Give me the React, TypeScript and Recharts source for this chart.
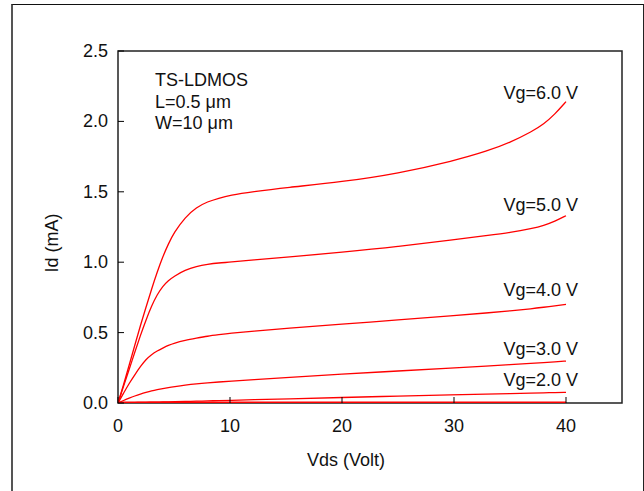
import { LineChart, Line, XAxis, YAxis, ReferenceArea } from "recharts";

// drain voltage grid (V)
const VDS = [0, 0.5, 1, 1.5, 2, 2.5, 3, 3.5, 4, 4.5, 5, 6, 7, 8, 9, 10, 12, 15, 20, 25, 30, 33, 35, 37, 38, 39, 40];

// drain current (mA)
const ID_VG6 = [0, 0.13, 0.27, 0.41, 0.55, 0.68, 0.81, 0.93, 1.04, 1.13, 1.21, 1.32, 1.39, 1.43, 1.455, 1.475, 1.5, 1.53, 1.57, 1.63, 1.72, 1.79, 1.85, 1.93, 1.98, 2.05, 2.14];
const ID_VG5 = [0, 0.12, 0.24, 0.36, 0.48, 0.59, 0.69, 0.77, 0.83, 0.87, 0.9, 0.945, 0.97, 0.985, 0.995, 1.0, 1.015, 1.035, 1.07, 1.11, 1.16, 1.19, 1.21, 1.24, 1.26, 1.29, 1.33];
const ID_VG4 = [0, 0.07, 0.14, 0.2, 0.26, 0.31, 0.345, 0.37, 0.39, 0.41, 0.425, 0.445, 0.46, 0.475, 0.485, 0.495, 0.51, 0.53, 0.56, 0.59, 0.62, 0.64, 0.655, 0.67, 0.68, 0.69, 0.7];
const ID_VG3 = [0, 0.018, 0.035, 0.05, 0.063, 0.075, 0.086, 0.095, 0.103, 0.11, 0.116, 0.127, 0.136, 0.143, 0.149, 0.155, 0.165, 0.18, 0.205, 0.227, 0.25, 0.263, 0.272, 0.282, 0.287, 0.292, 0.298];
const ID_VG2 = [0, 0.001, 0.002, 0.003, 0.004, 0.005, 0.006, 0.006, 0.007, 0.008, 0.009, 0.011, 0.013, 0.015, 0.017, 0.019, 0.023, 0.029, 0.039, 0.049, 0.058, 0.063, 0.067, 0.07, 0.072, 0.074, 0.076];
const ID_VG1 = VDS.map(() => 0);

const X_TICKS = [0, 10, 20, 30, 40];
const Y_TICKS = [0, 0.5, 1, 1.5, 2, 2.5];

const FONT = "'Liberation Sans', Arial, sans-serif";
const RED = "#ff0000";

const series = [
  { name: "Vg=6.0 V", values: ID_VG6, width: 1.3, dy: -3 },
  { name: "Vg=5.0 V", values: ID_VG5, width: 1.3, dy: -5 },
  { name: "Vg=4.0 V", values: ID_VG4, width: 1.3, dy: -8 },
  { name: "Vg=3.0 V", values: ID_VG3, width: 1.3, dy: -6 },
  { name: "Vg=2.0 V", values: ID_VG2, width: 1.3, dy: -6 },
  { name: "", values: ID_VG1, width: 3, dy: 0 },
];

function YTick({ x, y, payload }: any) {
  return (
    <g>
      <line x1={x + 10} x2={x + 16} y1={y} y2={y} stroke="#000" strokeWidth={1} />
      <text x={x} y={y} textAnchor="end" dominantBaseline="central" fontSize={18} fontFamily={FONT} fill="#111">
        {payload.value.toFixed(1)}
      </text>
    </g>
  );
}

function XTick({ x, y, payload }: any) {
  return (
    <g>
      <line x1={x} x2={x} y1={y} y2={y - 6} stroke="#000" strokeWidth={1} />
      <text x={x} y={y + 29} textAnchor="middle" fontSize={18} fontFamily={FONT} fill="#111">
        {payload.value}
      </text>
    </g>
  );
}

export default function App() {
  const last = VDS.length - 1;
  return (
    <div style={{ position: "absolute", left: 0, top: 0, width: 644, height: 491, overflow: "hidden", background: "#fff", fontFamily: FONT }}>
      <div
        style={{
          position: "absolute",
          left: 11,
          top: 4,
          width: 630,
          height: 600,
          borderLeft: "2px solid #555",
          borderTop: "1.5px solid #111",
          borderRight: "1.5px solid #222",
        }}
      />
      <LineChart width={644} height={491} margin={{ top: 51, right: 22, bottom: 58, left: 58 }}>
        <XAxis
          dataKey="vds"
          type="number"
          domain={[0, 45]}
          ticks={X_TICKS}
          allowDataOverflow
          axisLine={false}
          tickLine={false}
          tickSize={0}
          tickMargin={0}
          height={30}
          tick={<XTick />}
        />
        <YAxis
          type="number"
          domain={[0, 2.5]}
          ticks={Y_TICKS}
          allowDataOverflow
          axisLine={false}
          tickLine={false}
          tickSize={0}
          tickMargin={10}
          width={60}
          tick={<YTick />}
        />
        <ReferenceArea x1={0} x2={45} y1={0} y2={2.5} fill="none" stroke="#222" strokeWidth={1.5} ifOverflow="visible" />
        {series.map((s, k) => (
          <Line
            key={k}
            data={VDS.map((v, i) => ({ vds: v, id: s.values[i] }))}
            dataKey="id"
            type="basis"
            stroke={RED}
            strokeWidth={s.width}
            dot={false}
            activeDot={false}
            isAnimationActive={false}
            label={(p: any) =>
              s.name && p.index === last ? (
                <text x={p.x + 12} y={p.y + s.dy} textAnchor="end" fontSize={18} fontFamily={FONT} fill="#111">
                  {s.name}
                </text>
              ) : (
                <g />
              )
            }
          />
        ))}
      </LineChart>
      <div style={{ position: "absolute", left: 155, top: 70, fontSize: 18, lineHeight: "21.7px", color: "#111" }}>
        <div>TS-LDMOS</div>
        <div>L=0.5 μm</div>
        <div>W=10 μm</div>
      </div>
      <div
        style={{
          position: "absolute",
          left: 52,
          top: 243,
          fontSize: 18,
          color: "#111",
          whiteSpace: "nowrap",
          transform: "translate(-50%, -50%) rotate(-90deg)",
        }}
      >
        Id (mA)
      </div>
      <div
        style={{
          position: "absolute",
          left: 346,
          top: 460,
          fontSize: 18,
          color: "#111",
          whiteSpace: "nowrap",
          transform: "translate(-50%, -50%)",
        }}
      >
        Vds (Volt)
      </div>
    </div>
  );
}
